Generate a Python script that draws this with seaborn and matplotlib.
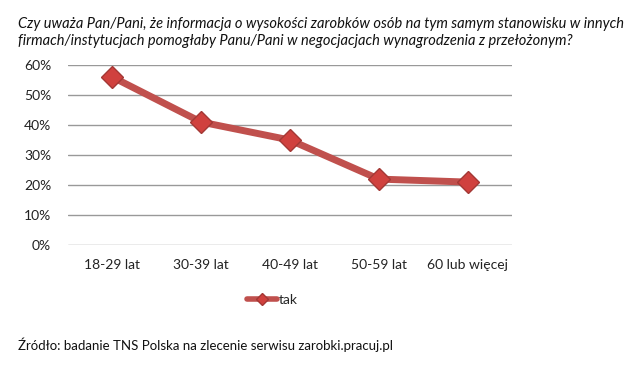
import matplotlib
matplotlib.use("Agg")
import matplotlib.pyplot as plt
import seaborn as sns
import pandas as pd
from matplotlib.ticker import PercentFormatter

# Dane z wykresu
kategorie = ["18-29 lat", "30-39 lat", "40-49 lat", "50-59 lat", "60 lub więcej"]
tak = [56, 41, 35, 22, 21]
y_ticks = [0, 10, 20, 30, 40, 50, 60]

TYTUL = ("Czy uważa Pan/Pani, że informacja o wysokości zarobków osób na tym samym stanowisku w innych\n"
         "firmach/instytucjach pomogłaby Panu/Pani w negocjacjach wynagrodzenia z przełożonym?")
ZRODLO = "Źródło: badanie TNS Polska na zlecenie serwisu zarobki.pracuj.pl"

sns.set_style("white")
plt.rcParams['font.family'] = ['Lato', 'DejaVu Sans']

df = pd.DataFrame({"grupa": kategorie, "tak": tak})

fig = plt.figure(figsize=(6.4, 3.67), dpi=100)
ax = fig.add_axes([0.106, 0.332, 0.694, 0.491])

sns.lineplot(data=df, x="grupa", y="tak", ax=ax, color="#C0504D", linewidth=5,
             marker="D", markersize=11, markerfacecolor="#D0413E",
             markeredgecolor="#A33835", markeredgewidth=1, label="tak", sort=False)

ax.set_ylim(0, 60)
ax.set_xlim(-0.5, len(kategorie) - 0.5)
ax.set_yticks(y_ticks)
ax.yaxis.set_major_formatter(PercentFormatter(decimals=0))
ax.yaxis.grid(True, color="#999999", linewidth=1)
ax.set_axisbelow(True)
for s in ax.spines.values():
    s.set_visible(False)
ax.tick_params(axis="both", length=0, labelsize=10, colors="#222222", pad=10)
ax.tick_params(axis="y", pad=12)
ax.set_xlabel("")
ax.set_ylabel("")

leg = ax.legend(loc="upper center", bbox_to_anchor=(0.46, -0.2), frameon=False,
                fontsize=10, handlelength=2.2, handletextpad=0.1)
leg.legend_handles[0].set_markersize(6)
leg.legend_handles[0].set_linewidth(4)

fig.text(0.028, 0.955, TYTUL, fontsize=10.5, style="italic", va="top", ha="left",
         color="#111111", linespacing=1.35)
fig.text(0.028, 0.06, ZRODLO, fontsize=9.5, va="center", ha="left", color="#111111")

fig.savefig("out.png", dpi=100)
